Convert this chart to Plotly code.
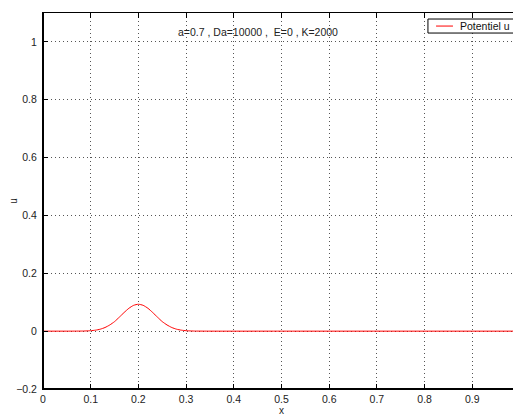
import plotly.graph_objects as go

# Data
x_vals = [0.0, 0.05, 0.08, 0.09, 0.10, 0.11, 0.12, 0.13, 0.14, 0.15, 0.16, 0.17, 0.18, 0.19,
          0.20, 0.21, 0.22, 0.23, 0.24, 0.25, 0.26, 0.27, 0.28, 0.29, 0.30, 0.31, 0.32, 0.35, 0.5, 1.0]
u_vals = [0.0, 0.0, 0.0003, 0.0007, 0.0016, 0.0034, 0.0068, 0.0126, 0.0214, 0.033, 0.0484, 0.0644, 0.079, 0.0893,
          0.093, 0.0893, 0.079, 0.0644, 0.0484, 0.033, 0.0214, 0.0126, 0.0068, 0.0034, 0.0016, 0.0007, 0.0003, 0.0, 0.0, 0.0]

x_ticks = [0, 0.1, 0.2, 0.3, 0.4, 0.5, 0.6, 0.7, 0.8, 0.9, 1.0]
x_tick_labels = ["0", "0.1", "0.2", "0.3", "0.4", "0.5", "0.6", "0.7", "0.8", "0.9", "1"]
y_ticks = [-0.2, 0, 0.2, 0.4, 0.6, 0.8, 1.0]
y_tick_labels = ["\u22120.2", "0", "0.2", "0.4", "0.6", "0.8", "1"]

title_text = "a=0.7 , Da=10000 ,  E=0 , K=2000"
series_name = "Potentiel u"
line_color = "#ff0000"

FONT = "Liberation Sans, Arial"

fig = go.Figure()
fig.add_trace(go.Scatter(x=x_vals, y=u_vals, mode="lines", name=series_name, showlegend=False,
                         line=dict(color=line_color, width=1, shape="spline", smoothing=0.6)))

axis_common = dict(
    showline=True, linecolor="black", linewidth=1, mirror="ticks",
    ticks="inside", ticklen=5, tickcolor="black", tickwidth=1,
    showgrid=True, gridcolor="#555555", gridwidth=1, griddash="1px,3px",
    zeroline=False, automargin=False,
    tickfont=dict(size=10.5, color="#222222", family=FONT),
)

# legend box drawn in the style of MATLAB (paper coordinates)
shapes = [
    dict(type="line", xref="paper", yref="paper", x0=0, x1=0, y0=0, y1=1,
         line=dict(color="black", width=2)),
    dict(type="line", xref="paper", yref="paper", x0=0, x1=1, y0=0, y1=0,
         line=dict(color="black", width=2)),
    dict(type="rect", xref="paper", yref="paper", x0=0.807, x1=0.9895, y0=0.9467, y1=0.984,
         line=dict(color="black", width=1), fillcolor="white", layer="above"),
    dict(type="line", xref="paper", yref="paper", x0=0.824, x1=0.8595, y0=0.9653, y1=0.9653,
         line=dict(color=line_color, width=1), layer="above"),
]

fig.update_layout(
    width=521, height=414,
    margin=dict(l=35, r=9, t=5, b=33, autoexpand=False),
    paper_bgcolor="white", plot_bgcolor="white",
    font=dict(family=FONT, size=10.5, color="#222222"),
    showlegend=False,
    xaxis=dict(range=[0, 1], tickvals=x_ticks, ticktext=x_tick_labels, ticklabelstandoff=0,
               title=dict(text="x", standoff=0, font=dict(size=10)), **axis_common),
    yaxis=dict(range=[-0.2, 1.1], tickvals=y_ticks, ticktext=y_tick_labels, ticklabelstandoff=3,
               title=dict(text="u", standoff=4, font=dict(size=10)), **axis_common),
    shapes=shapes,
    annotations=[
        dict(x=0.45, y=1.035, xref="x", yref="y", text=title_text, showarrow=False,
             font=dict(size=10.5, color="#222222"), xanchor="center", yanchor="middle"),
        dict(x=0.870, y=0.9653, xref="paper", yref="paper", text=series_name, showarrow=False,
             font=dict(size=10.5, color="#111111"), xanchor="left", yanchor="middle"),
    ],
)

fig.write_html("out.html")
